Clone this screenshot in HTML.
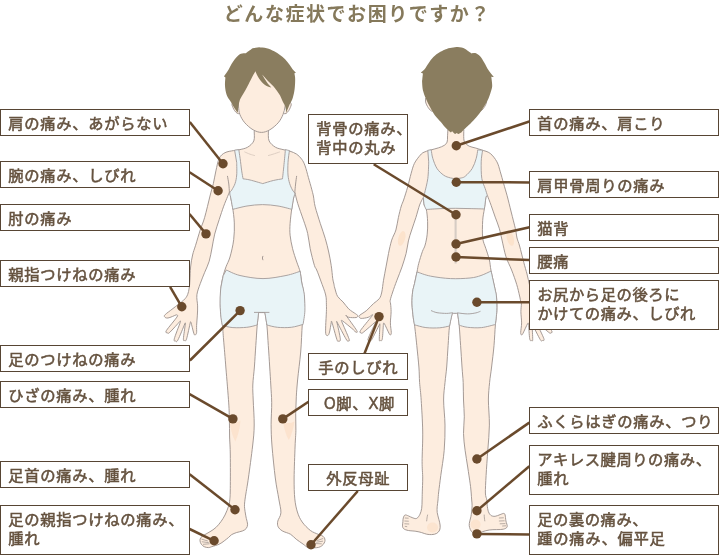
<!DOCTYPE html>
<html lang="ja">
<head>
<meta charset="utf-8">
<title>どんな症状でお困りですか？</title>
<style>
html,body{margin:0;padding:0;background:#fff;}
body{width:719px;height:555px;overflow:hidden;position:relative;font-family:"Liberation Sans","Noto Sans CJK JP",sans-serif;}
svg{position:absolute;left:0;top:0;display:block;}
svg text{font-family:"Liberation Sans","Noto Sans CJK JP",sans-serif;}
</style>
</head>
<body>
<svg width="719" height="555" viewBox="0 0 719 555">
<path d="M254.2,131.4C254.1,133.0 254.9,138.3 253.8,140.9C252.7,143.5 249.9,145.8 247.6,147.2C245.3,148.6 242.4,149.0 240.0,149.6C237.6,150.2 235.9,150.1 233.4,150.6C230.9,151.1 227.4,151.4 225.0,152.7C222.6,154.0 220.7,155.3 219.2,158.3C217.7,161.3 216.9,166.7 215.9,170.9C214.9,175.1 214.4,179.2 213.4,183.4C212.4,187.6 211.4,190.3 210.0,196.0C208.6,201.7 206.3,211.6 204.7,217.3C203.1,223.0 201.7,225.3 200.2,230.0C198.7,234.7 196.9,241.1 195.6,245.3C194.3,249.5 193.4,251.4 192.6,255.0C191.8,258.6 191.0,262.8 190.6,267.0C190.2,271.2 190.1,276.5 189.9,280.0C189.7,283.5 189.6,285.6 189.2,288.0C188.8,290.4 188.5,292.6 187.6,294.7C186.7,296.8 185.9,298.0 183.5,300.3C181.1,302.6 176.0,306.1 173.0,308.5C170.0,310.9 166.7,313.1 165.3,314.5C163.9,315.9 164.2,316.2 164.6,316.8C165.0,317.4 166.0,318.3 168.0,318.0C170.0,317.7 175.0,315.3 176.4,314.8C176.5,315.2 178.7,314.4 177.0,317.0C175.3,319.6 168.0,327.9 166.4,330.5C164.8,333.1 166.8,332.6 167.4,332.9C168.0,333.2 167.7,334.2 169.8,332.3C171.9,330.4 178.3,323.1 180.0,321.3C180.0,321.5 181.1,319.6 180.2,322.5C179.2,325.4 175.1,335.7 174.3,338.8C173.6,341.9 175.1,340.9 175.7,341.1C176.3,341.3 176.5,342.7 178.0,339.8C179.5,336.9 183.7,326.5 184.8,323.8C184.9,323.8 185.5,321.5 185.3,324.0C185.1,326.5 183.5,336.1 183.4,338.8C183.3,341.6 184.3,340.5 184.8,340.5C185.3,340.5 185.7,341.8 186.6,338.8C187.5,335.8 189.7,325.2 190.3,322.5C190.4,322.5 190.4,320.7 191.0,322.5C191.6,324.3 193.1,331.2 193.8,333.3C194.5,335.4 194.7,335.0 195.2,334.9C195.7,334.8 196.4,334.2 196.6,332.6C196.8,331.1 196.5,328.4 196.6,325.6C196.7,322.8 197.1,319.2 197.3,315.9C197.5,312.6 197.7,309.4 197.6,305.9C197.5,302.4 196.4,298.4 196.9,294.7C197.4,291.0 199.0,287.2 200.3,283.5C201.6,279.8 203.2,276.0 204.7,272.3C206.2,268.6 208.0,265.2 209.2,261.2C210.4,257.1 211.1,252.5 212.0,248.0C212.9,243.5 213.5,238.8 214.7,234.1C215.9,229.4 217.7,224.2 219.2,219.6C220.7,214.9 222.3,210.0 223.7,206.2C225.1,202.3 226.7,198.8 227.6,196.5C228.5,194.2 229.0,192.9 229.3,192.2C229.4,192.3 229.8,192.5 229.9,192.6C230.1,193.7 230.6,196.6 231.0,199.0C231.4,201.4 232.0,203.3 232.6,207.3C233.2,211.3 234.1,217.5 234.3,222.9C234.5,228.3 234.4,234.0 233.7,239.7C233.0,245.4 231.3,252.5 230.0,257.0C228.7,261.5 227.1,263.7 226.0,266.8C224.9,269.9 224.0,272.4 223.2,275.7C222.4,279.0 221.5,282.8 221.0,286.9C220.5,291.0 220.5,296.1 220.4,300.3C220.3,304.5 220.3,307.9 220.6,312.0C220.9,316.1 221.9,320.3 222.4,325.0C222.9,329.7 223.0,332.8 223.6,340.0C224.2,347.2 225.1,357.5 225.9,368.0C226.8,378.5 228.1,394.2 228.7,402.9C229.3,411.6 229.2,414.3 229.4,420.0C229.6,425.7 229.4,431.2 229.6,437.0C229.8,442.8 230.2,446.4 230.3,455.0C230.4,463.6 230.4,481.1 230.3,488.5C230.2,495.9 230.1,496.8 229.8,499.7C229.5,502.6 229.4,503.4 228.6,506.0C227.8,508.6 226.3,512.4 225.0,515.0C223.7,517.6 222.4,519.6 220.9,521.7C219.4,523.8 217.7,525.8 215.9,527.5C214.1,529.2 211.9,530.5 210.0,531.7C208.1,533.0 205.7,534.0 204.2,535.0C202.7,536.0 201.5,536.6 200.8,537.6C200.1,538.6 199.9,539.8 200.0,540.9C200.1,542.0 200.6,543.2 201.3,544.2C202.0,545.2 203.0,546.1 204.2,546.7C205.4,547.3 207.2,547.6 208.4,547.6C209.7,547.6 209.9,547.3 211.7,546.7C213.5,546.1 217.1,545.2 219.2,544.2C221.3,543.2 222.7,542.0 224.2,540.9C225.7,539.8 227.2,538.6 228.4,537.6C229.7,536.6 230.3,535.5 231.7,534.6C233.1,533.8 234.9,533.1 236.7,532.5C238.5,531.9 241.0,531.6 242.6,530.9C244.2,530.2 245.5,529.5 246.3,528.4C247.1,527.3 247.6,525.9 247.6,524.2C247.6,522.5 246.7,520.5 246.3,518.4C245.9,516.3 245.4,514.1 245.1,511.7C244.8,509.3 244.3,507.3 244.5,504.2C244.7,501.1 245.3,497.4 246.0,493.0C246.7,488.6 247.3,485.8 248.4,478.0C249.5,470.2 251.6,454.8 252.6,446.0C253.6,437.2 254.1,432.7 254.2,425.0C254.3,417.3 253.4,406.7 253.2,400.0C253.0,393.3 252.6,390.5 252.8,385.0C253.0,379.5 253.9,373.6 254.4,367.0C254.9,360.4 255.3,352.5 255.8,345.6C256.3,338.7 256.7,331.1 257.2,325.5C257.7,319.9 258.4,314.4 258.6,312.2C259.7,312.2 263.8,312.2 264.9,312.2C265.2,314.4 266.3,319.9 266.9,325.5C267.5,331.1 267.8,338.7 268.3,345.6C268.8,352.5 269.3,360.4 269.7,367.0C270.1,373.6 270.5,379.1 270.8,385.0C271.1,390.9 271.6,395.7 271.7,402.3C271.8,408.9 271.1,417.4 271.1,424.7C271.2,432.0 271.3,437.1 272.0,446.0C272.7,454.9 274.2,469.2 275.3,478.0C276.4,486.8 277.9,493.1 278.8,498.9C279.7,504.7 281.1,509.1 280.9,512.8C280.7,516.5 278.3,518.8 277.8,521.1C277.3,523.4 277.4,525.1 278.1,526.7C278.9,528.3 280.2,529.6 282.3,530.9C284.4,532.2 288.3,532.9 290.6,534.3C292.9,535.7 294.1,537.6 296.2,539.2C298.3,540.8 301.1,542.7 303.1,544.1C305.1,545.5 306.2,546.9 308.0,547.5C309.8,548.1 312.2,547.8 314.0,547.8C315.8,547.8 317.2,547.7 318.5,547.4C319.8,547.1 320.9,546.5 321.8,545.8C322.8,545.1 323.7,543.9 324.2,543.0C324.7,542.1 325.0,541.2 325.0,540.3C325.0,539.4 324.7,538.3 324.2,537.5C323.7,536.7 322.8,536.1 321.8,535.6C320.8,535.1 320.3,535.3 318.4,534.4C316.5,533.5 313.0,532.5 310.3,530.4C307.6,528.3 304.4,525.1 302.2,522.0C300.0,518.9 298.6,515.9 297.4,512.0C296.2,508.1 295.4,504.6 294.8,498.9C294.2,493.2 294.1,486.8 294.1,478.0C294.2,469.2 294.8,453.9 295.1,446.0C295.4,438.1 295.8,435.7 295.9,430.3C296.0,424.9 295.6,419.1 295.7,413.5C295.8,407.9 296.0,402.4 296.3,396.8C296.6,391.2 296.9,387.5 297.6,380.0C298.3,372.5 299.9,361.3 300.7,352.0C301.5,342.7 301.7,332.1 302.3,324.3C302.9,316.5 304.2,310.4 304.4,305.0C304.6,299.6 304.0,295.7 303.6,292.0C303.2,288.3 302.4,286.3 301.8,283.0C301.2,279.7 301.0,275.6 300.2,272.1C299.4,268.6 298.1,266.0 296.8,262.1C295.5,258.2 293.7,253.2 292.6,248.7C291.5,244.2 290.5,239.4 290.1,235.2C289.7,231.0 289.8,228.0 290.1,223.5C290.4,219.0 291.2,212.7 291.8,208.4C292.4,204.2 293.1,200.5 293.6,198.0C294.1,195.5 294.4,194.2 294.6,193.5C294.7,193.4 294.9,192.9 295.0,192.8C295.4,194.6 296.3,198.8 297.7,203.4C299.1,208.0 301.8,215.2 303.5,220.2C305.2,225.2 306.6,228.8 307.7,233.6C308.8,238.3 309.1,243.4 310.2,248.7C311.3,254.0 313.3,261.8 314.4,265.4C315.5,268.9 315.6,267.4 316.7,270.0C317.8,272.6 319.4,276.9 320.9,281.1C322.4,285.3 324.8,291.1 325.7,295.0C326.6,298.9 326.3,302.0 326.4,304.8C326.5,307.6 326.5,308.2 326.4,311.7C326.3,315.2 325.8,322.0 325.7,325.6C325.6,329.2 325.5,331.6 325.7,333.3C325.9,335.0 326.5,335.6 327.1,335.6C327.7,335.6 328.5,335.5 329.2,333.3C329.9,331.1 330.9,324.2 331.3,322.4C331.4,322.4 331.1,319.5 332.0,322.4C332.9,325.2 335.8,336.4 336.9,339.5C338.0,342.6 338.1,341.2 338.7,341.1C339.3,341.0 340.6,342.0 340.3,338.8C340.0,335.6 337.5,325.0 336.9,322.2C337.0,322.3 335.8,319.8 337.3,322.6C338.8,325.4 344.1,335.8 345.9,338.8C347.7,341.9 347.5,340.9 348.0,340.9C348.5,340.9 350.1,342.0 349.0,338.8C347.9,335.6 342.9,324.4 341.7,321.5C341.8,321.4 340.4,319.4 342.4,320.8C344.4,322.2 351.3,327.9 353.5,329.8C355.7,331.7 355.1,332.0 355.6,332.1C356.1,332.2 358.3,333.3 356.7,330.5C355.1,327.7 347.7,317.8 345.9,315.2C346.4,315.6 347.0,316.9 348.7,317.3C350.4,317.7 354.8,317.8 356.3,317.5C357.8,317.2 357.8,316.2 357.7,315.6C357.6,315.0 357.1,314.9 355.6,313.8C354.1,312.7 350.8,310.9 348.7,308.9C346.6,306.9 345.0,304.1 343.1,302.0C341.2,299.9 339.0,298.7 337.6,296.4C336.2,294.1 335.5,290.3 334.8,288.1C334.1,285.9 334.1,284.6 333.7,283.0C333.3,281.4 333.1,281.2 332.7,278.3C332.3,275.4 331.9,269.8 331.2,265.4C330.5,261.0 329.7,256.5 328.7,252.0C327.7,247.5 326.7,243.3 325.3,238.6C323.9,233.8 322.0,228.8 320.3,223.5C318.6,218.2 316.4,211.4 315.2,206.8C314.0,202.2 314.0,198.9 313.4,196.0C312.8,193.1 312.5,192.3 311.7,189.2C310.9,186.1 309.5,181.4 308.4,177.5C307.3,173.6 306.2,169.0 305.1,165.9C304.0,162.8 303.1,161.1 301.7,159.2C300.3,157.2 298.6,155.5 296.7,154.2C294.8,152.9 292.3,152.0 290.0,151.2C287.7,150.4 285.4,150.3 283.0,149.6C280.6,148.9 277.7,148.6 275.4,147.2C273.1,145.8 270.3,143.5 269.1,140.9C267.9,138.3 268.5,133.0 268.4,131.4" fill="#fdeddf" stroke="#9b908b" stroke-width="0.9" stroke-linejoin="round" stroke-linecap="round" />
<path d="M232.8,102.5C232.7,102.9 231.7,103.7 232.0,105.0C232.3,106.3 233.6,109.1 234.5,110.5C235.4,111.9 236.7,113.0 237.5,113.5C238.3,114.0 239.2,113.5 239.5,113.5" fill="#fdeddf" stroke="#9b908b" stroke-width="0.9" stroke-linejoin="round" stroke-linecap="round" />
<path d="M290.4,102.5C290.5,102.9 291.5,103.7 291.2,105.0C290.9,106.3 289.7,109.1 288.8,110.5C287.9,111.9 286.8,113.0 286.0,113.5C285.2,114.0 284.3,113.5 284.0,113.5" fill="#fdeddf" stroke="#9b908b" stroke-width="0.9" stroke-linejoin="round" stroke-linecap="round" />
<path d="M238.3,95.0C238.3,96.8 238.2,102.8 238.5,106.1C238.8,109.3 238.8,111.7 239.9,114.5C241.0,117.3 242.6,120.2 244.8,122.8C247.0,125.3 250.3,128.2 253.1,129.8C255.9,131.4 258.7,132.4 261.5,132.4C264.3,132.4 267.0,131.4 269.8,129.8C272.6,128.2 276.0,125.3 278.2,122.8C280.4,120.2 281.9,117.3 283.0,114.5C284.1,111.7 284.7,109.3 285.1,106.1C285.5,102.8 286.4,101.0 285.5,95.0C284.6,89.0 284.1,75.5 280.0,70.0C275.9,64.5 267.2,62.0 261.0,62.0C254.8,62.0 246.0,68.7 243.0,70.0Z" fill="#fdeddf" stroke="#9b908b" stroke-width="0.9" stroke-linejoin="round" stroke-linecap="round" />
<path d="M244.8,152.0C245.7,152.4 248.4,153.6 250.0,154.2C251.6,154.8 253.8,155.3 254.5,155.5" fill="none" stroke="#d6c6bb" stroke-width="0.8" stroke-linejoin="round" stroke-linecap="round" />
<path d="M268.4,155.5C269.2,155.3 271.1,154.8 273.0,154.2C274.9,153.6 278.4,152.4 279.5,152.0" fill="none" stroke="#d6c6bb" stroke-width="0.8" stroke-linejoin="round" stroke-linecap="round" />
<path d="M262.9,256.3C262.8,256.6 262.4,257.4 262.4,258.0C262.4,258.6 262.8,259.5 262.9,259.8" fill="none" stroke="#9b908b" stroke-width="0.9" stroke-linejoin="round" stroke-linecap="round" />
<path d="M201.8,539.2L207.5,540.9" fill="none" stroke="#9b908b" stroke-width="0.7" stroke-linejoin="round" stroke-linecap="round" />
<path d="M202.2,541.8L208.4,542.6" fill="none" stroke="#9b908b" stroke-width="0.7" stroke-linejoin="round" stroke-linecap="round" />
<path d="M203.4,544.3L209.2,543.8" fill="none" stroke="#9b908b" stroke-width="0.7" stroke-linejoin="round" stroke-linecap="round" />
<path d="M322.8,538.6L317.5,540.5" fill="none" stroke="#9b908b" stroke-width="0.7" stroke-linejoin="round" stroke-linecap="round" />
<path d="M322.6,541.2L316.6,542.2" fill="none" stroke="#9b908b" stroke-width="0.7" stroke-linejoin="round" stroke-linecap="round" />
<path d="M321.4,543.8L315.8,543.6" fill="none" stroke="#9b908b" stroke-width="0.7" stroke-linejoin="round" stroke-linecap="round" />
<path d="M229.6,420.5C233,422.5 237,422.5 240.4,420.5C240,428 238,436 235.3,441.5C232.5,436 230.2,428 229.6,420.5Z" fill="#fbdfc8" opacity="0.75"/>
<path d="M283.2,421.5C286.5,423.5 290.5,423.5 294.4,421.5C293.6,428 291.6,435 288.8,440C286,435 283.8,428 283.2,421.5Z" fill="#fbdfc8" opacity="0.75"/>
<path d="M234.6,150.2C235.3,150.1 238.1,149.7 238.8,149.6C239.0,151.1 239.6,154.8 240.1,158.3C240.6,161.9 241.2,167.5 241.7,170.9C242.2,174.3 242.8,177.5 243.0,178.8C244.2,179.0 246.8,179.2 250.1,180.0C253.4,180.8 260.6,183.0 262.7,183.6C264.5,183.1 270.0,181.3 273.3,180.5C276.6,179.7 281.0,179.1 282.5,178.8C282.8,176.1 283.7,167.4 284.2,162.5C284.7,157.6 285.2,151.8 285.4,149.6C286.1,149.8 288.7,150.4 289.4,150.6C289.2,152.6 288.2,158.4 288.0,162.5C287.8,166.6 287.7,171.5 288.0,175.0C288.3,178.5 288.9,180.9 289.6,183.4C290.4,185.9 291.6,188.4 292.5,190.1C293.4,191.8 294.6,192.2 294.8,193.5C295.0,194.8 294.1,195.4 293.6,198.0C293.1,200.6 292.1,207.4 291.8,209.3C289.5,208.8 282.9,206.8 278.0,206.0C273.1,205.2 267.7,204.6 262.5,204.6C257.3,204.6 251.9,205.2 247.0,206.0C242.1,206.8 235.2,208.8 232.8,209.3C232.5,207.6 231.5,201.7 231.0,199.0C230.5,196.3 229.7,194.5 229.8,193.0C229.9,191.5 230.8,191.7 231.7,190.1C232.6,188.5 234.3,185.9 235.1,183.4C235.9,180.9 236.4,178.5 236.7,175.0C237.0,171.5 236.7,164.6 236.7,162.5Z" fill="#e9f4f7" stroke="#a29a99" stroke-width="0.9" stroke-linejoin="round"/>
<path d="M227.5,176.3C227.7,177.6 228.5,181.4 228.8,184.0C229.1,186.6 229.3,190.7 229.4,192.0" fill="none" stroke="#9b908b" stroke-width="0.9" stroke-linejoin="round" stroke-linecap="round" />
<path d="M296.6,176.3C296.4,177.6 295.9,181.3 295.6,184.0C295.3,186.7 294.9,191.1 294.8,192.5" fill="none" stroke="#9b908b" stroke-width="0.9" stroke-linejoin="round" stroke-linecap="round" />
<path d="M226.3,270.0C228.6,270.9 233.9,274.1 240.0,275.5C246.1,276.9 255.3,278.6 263.0,278.6C270.7,278.6 279.8,276.7 286.0,275.5C292.2,274.3 297.8,272.0 300.2,271.3C300.5,273.2 301.2,279.9 301.8,283.0C302.4,286.1 303.1,287.7 303.5,290.0C303.9,292.3 304.3,293.5 304.5,297.0C304.7,300.5 305.1,306.3 304.9,310.9C304.7,315.5 303.4,322.1 303.1,324.4C301.1,324.9 295.6,326.8 291.3,327.3C287.0,327.8 281.5,327.7 277.4,327.3C273.3,326.9 268.6,325.4 266.9,325.0C266.6,322.9 265.2,314.7 264.9,312.6C263.8,312.6 259.7,312.6 258.6,312.6C258.4,314.7 257.4,322.9 257.2,325.0C255.5,325.4 250.9,326.9 246.8,327.3C242.8,327.7 237.0,327.9 232.9,327.6C228.8,327.3 224.2,325.9 222.4,325.5C222.2,324.2 221.4,321.4 221.0,317.8C220.6,314.2 220.2,308.5 220.1,303.9C220.0,299.3 220.1,294.7 220.6,290.0C221.1,285.3 222.8,278.1 223.2,275.7Z" fill="#e9f4f7" stroke="#a29a99" stroke-width="0.9" stroke-linejoin="round"/>
<path d="M254.4,312.4L269,312.4" fill="none" stroke="#a29a99" stroke-width="0.9" stroke-linejoin="round" stroke-linecap="round" />
<path d="M259.2,47.3C260.4,47.5 264.2,47.6 266.7,48.3C269.2,49.0 272.0,50.2 274.2,51.3C276.4,52.4 278.2,53.7 280.0,55.0C281.8,56.3 283.6,57.7 285.1,59.2C286.6,60.7 287.9,62.5 289.2,64.2C290.4,65.9 291.5,67.8 292.6,69.2C293.7,70.6 295.3,71.9 295.9,72.4C295.6,72.6 294.6,73.2 294.4,73.3C294.5,74.0 295.0,76.0 295.1,77.6C295.2,79.2 295.2,80.6 295.1,82.9C295.0,85.2 294.8,88.4 294.3,91.2C293.8,94.0 293.1,97.2 292.2,99.6C291.3,102.0 290.2,103.2 289.2,105.4C288.2,107.6 286.7,111.4 286.2,112.6C286.0,111.5 285.7,108.0 285.1,106.1C284.5,104.2 283.4,103.0 282.6,101.2C281.8,99.4 281.1,97.2 280.1,95.4C279.1,93.6 277.8,91.9 276.7,90.4C275.6,88.9 274.9,87.9 273.4,86.2C271.9,84.5 269.4,82.4 267.5,80.4C265.6,78.5 263.0,75.5 262.1,74.5C262.9,75.8 265.2,79.8 266.7,82.0C268.2,84.2 270.5,86.6 271.3,87.5C270.2,87.1 267.0,86.5 265.0,85.0C263.0,83.5 260.8,81.0 259.2,78.7C257.6,76.4 256.0,72.5 255.4,71.2C254.8,72.3 253.0,75.4 251.7,77.9C250.4,80.4 248.9,83.6 247.5,86.2C246.1,88.8 244.6,91.5 243.3,93.7C242.1,95.9 240.8,97.5 240.0,99.6C239.2,101.7 238.9,103.9 238.5,106.1C238.1,108.3 237.9,111.7 237.8,112.8C237.3,112.2 236.2,110.7 235.0,108.9C233.8,107.1 232.3,104.3 230.9,102.0C229.5,99.7 227.7,97.7 226.7,95.0C225.7,92.3 225.2,88.9 225.0,86.0C224.8,83.1 225.3,79.0 225.4,77.6C225.2,77.4 224.2,76.5 224.0,76.3C224.2,76.0 225.2,74.5 225.4,74.2C226.0,73.4 227.6,71.2 228.8,69.2C230.0,67.2 231.2,64.5 232.5,62.5C233.8,60.5 235.3,58.6 236.7,57.1C238.1,55.6 239.4,54.4 240.9,53.8C242.4,53.1 245.1,53.3 245.9,53.2C246.3,52.9 247.3,52.1 248.4,51.3C249.5,50.5 251.9,48.8 252.6,48.3Z" fill="#8a7d5f"/>
<path d="M447.9,129.9C447.8,131.1 447.6,135.0 447.5,137.0C447.4,139.0 447.7,140.6 447.1,142.0C446.6,143.4 445.7,144.4 444.2,145.4C442.7,146.4 440.7,147.1 438.3,147.9C435.9,148.7 432.4,149.5 430.0,150.2C427.6,150.9 425.6,151.4 424.0,152.2C422.4,153.0 421.9,153.2 420.3,155.1C418.7,157.0 415.9,160.3 414.4,163.4C412.9,166.5 412.2,169.6 411.1,173.5C410.0,177.4 408.9,182.5 407.7,186.9C406.4,191.3 404.7,196.8 403.6,200.0C402.5,203.2 402.2,203.1 401.3,206.0C400.4,208.9 399.3,213.5 398.4,217.5C397.5,221.5 397.0,226.2 395.9,230.0C394.8,233.8 392.9,236.2 391.7,240.1C390.5,244.0 389.4,249.0 388.5,253.5C387.6,258.0 386.8,262.4 386.0,266.9C385.2,271.4 384.2,276.1 383.5,280.3C382.8,284.5 382.5,288.9 381.8,292.0C381.1,295.1 380.7,296.8 379.3,298.7C377.9,300.6 375.8,301.5 373.7,303.4C371.6,305.3 369.1,308.3 366.8,310.3C364.5,312.3 361.1,314.1 359.8,315.2C358.5,316.3 358.9,316.3 359.1,316.8C359.3,317.3 359.7,318.3 361.2,318.4C362.7,318.5 366.3,317.9 368.2,317.3C370.1,316.7 371.6,315.1 372.3,314.7C372.2,315.0 373.6,313.9 371.6,316.5C369.6,319.1 362.2,327.8 360.5,330.5C358.8,333.2 360.7,332.5 361.2,332.8C361.7,333.1 361.0,334.1 363.3,332.3C365.6,330.5 373.1,323.9 375.1,322.2C375.1,322.4 376.4,320.5 375.2,323.2C374.0,325.9 369.1,335.6 368.2,338.5C367.2,341.4 368.9,340.3 369.5,340.5C370.1,340.7 370.1,342.2 371.8,339.5C373.5,336.8 378.2,327.0 379.5,324.5C379.6,324.6 379.9,322.5 379.9,325.0C379.9,327.5 379.2,336.9 379.3,339.5C379.4,342.1 380.2,340.6 380.7,340.5C381.2,340.4 381.9,341.5 382.3,338.8C382.8,336.1 383.2,326.6 383.4,324.2C383.5,324.1 383.4,322.0 384.3,323.5C385.2,325.0 388.0,331.4 389.0,333.3C390.0,335.2 390.0,335.0 390.4,334.9C390.8,334.8 391.3,334.6 391.3,332.6C391.3,330.6 390.4,326.4 390.4,322.9C390.4,319.4 391.1,314.8 391.1,311.7C391.1,308.6 390.8,305.9 390.6,304.0C390.5,302.1 389.9,302.4 390.2,300.4C390.5,298.4 391.6,295.4 392.7,292.0C393.8,288.6 395.3,284.5 396.9,280.3C398.4,276.1 400.5,271.4 402.0,266.9C403.5,262.4 405.0,257.8 406.1,253.5C407.2,249.2 407.5,244.8 408.4,240.9C409.3,237.0 410.4,233.9 411.7,230.0C412.9,226.1 414.6,221.7 415.9,217.5C417.2,213.3 418.5,208.2 419.6,205.0C420.8,201.8 422.3,199.4 422.8,198.3C422.9,198.2 423.3,197.6 423.4,197.5C423.5,198.8 423.7,203.1 424.2,205.0C424.7,206.9 425.7,206.4 426.3,209.2C426.9,212.0 427.5,217.5 427.6,221.7C427.8,225.9 427.6,230.3 427.2,234.2C426.8,238.1 425.9,242.2 425.1,245.1C424.3,248.0 423.5,248.4 422.4,251.5C421.3,254.6 419.6,260.1 418.7,263.5C417.8,266.9 417.7,268.5 417.0,271.9C416.3,275.3 415.2,280.3 414.5,283.7C413.8,287.1 413.0,288.6 412.6,292.0C412.2,295.4 411.9,299.6 412.0,303.9C412.1,308.2 412.9,314.3 413.3,317.8C413.7,321.3 413.9,320.2 414.5,324.8C415.1,329.4 416.1,338.6 416.8,345.6C417.5,352.6 418.4,360.9 418.9,367.0C419.4,373.1 419.2,376.9 419.6,382.5C420.0,388.1 420.7,392.2 421.2,400.3C421.7,408.4 422.5,420.8 422.7,431.0C422.9,441.2 422.1,453.8 422.1,461.6C422.1,469.4 422.7,472.9 422.7,478.0C422.7,483.1 422.4,488.2 422.3,491.9C422.2,495.6 422.2,497.3 422.1,500.0C422.0,502.7 422.1,505.9 421.7,508.3C421.3,510.7 420.8,512.5 420.0,514.2C419.2,515.9 417.9,517.8 416.7,518.4C415.5,519.0 414.3,518.3 412.9,517.9C411.5,517.5 409.7,516.4 408.4,515.9C407.1,515.4 405.9,514.7 405.0,515.0C404.1,515.3 403.7,516.8 403.3,517.9C402.9,519.0 403.0,520.4 402.9,521.7C402.8,523.0 402.4,524.7 402.5,525.9C402.6,527.1 402.8,528.0 403.8,528.8C404.8,529.6 406.4,530.1 408.4,530.5C410.4,530.9 413.7,530.9 415.9,531.3C418.1,531.6 419.9,532.1 421.7,532.6C423.5,533.1 425.0,533.9 426.7,534.2C428.4,534.5 430.0,534.7 431.7,534.6C433.4,534.5 435.4,534.2 436.7,533.4C438.0,532.6 439.1,531.4 439.7,530.0C440.3,528.6 440.2,526.8 440.1,525.0C440.0,523.2 439.3,521.3 438.8,519.2C438.3,517.1 437.5,514.6 437.2,512.5C436.9,510.4 437.1,508.8 437.2,506.7C437.3,504.6 437.8,502.5 438.0,500.0C438.2,497.5 438.2,496.0 438.7,491.9C439.2,487.8 439.9,482.3 440.8,475.4C441.7,468.5 443.5,458.7 444.2,450.3C444.9,441.9 445.1,433.5 445.0,425.1C444.9,416.7 443.6,407.1 443.6,400.0C443.6,392.9 444.5,388.0 445.0,382.5C445.5,377.0 446.2,373.1 446.7,367.0C447.2,360.9 447.6,352.4 448.1,345.6C448.6,338.8 448.8,331.8 449.5,326.4C450.2,321.0 451.8,315.2 452.3,313.0C453.2,313.0 456.7,313.0 457.6,313.0C457.9,315.1 458.7,320.1 459.2,325.5C459.7,330.9 460.1,338.7 460.6,345.6C461.1,352.5 461.6,360.9 462.0,367.0C462.4,373.1 462.9,377.0 463.2,382.5C463.4,388.0 463.3,394.3 463.5,400.0C463.7,405.7 464.3,411.2 464.3,416.8C464.3,422.4 463.4,427.9 463.5,433.5C463.6,439.1 464.4,444.7 465.1,450.3C465.8,455.9 466.9,461.4 467.7,467.0C468.5,472.6 469.6,479.5 470.2,483.8C470.8,488.1 470.9,490.3 471.2,493.0C471.4,495.7 471.5,497.9 471.7,500.0C471.9,502.1 472.1,503.8 472.1,505.8C472.1,507.8 471.8,510.2 471.6,512.0C471.4,513.8 471.3,514.8 470.9,516.7C470.5,518.6 469.5,521.6 469.3,523.4C469.1,525.2 469.2,526.1 469.6,527.5C470.0,528.9 470.6,530.6 471.7,531.7C472.8,532.8 474.2,534.3 476.0,534.3C477.8,534.3 480.3,532.4 482.5,531.7C484.7,531.0 486.8,530.4 489.2,530.0C491.6,529.6 494.3,529.7 496.7,529.6C499.1,529.5 501.6,529.7 503.4,529.2C505.1,528.7 506.8,528.1 507.2,526.7C507.6,525.3 506.2,522.9 505.9,520.9C505.5,518.9 505.5,516.2 505.1,515.0C504.8,513.8 504.6,513.5 503.8,513.4C503.0,513.3 501.6,514.1 500.1,514.6C498.7,515.1 496.6,516.2 495.1,516.3C493.6,516.4 492.0,516.2 490.9,515.4C489.8,514.6 489.0,513.4 488.4,511.7C487.8,510.0 487.4,506.9 487.1,505.0C486.9,503.1 487.2,502.0 486.9,500.0C486.6,498.0 485.5,497.1 485.4,493.0C485.3,488.9 485.7,482.5 486.1,475.4C486.5,468.3 487.2,458.7 487.8,450.3C488.4,441.9 489.3,433.5 489.4,425.1C489.5,416.7 488.4,407.1 488.4,400.0C488.4,392.9 489.1,388.0 489.6,382.5C490.1,377.0 490.9,373.1 491.6,367.0C492.3,360.9 493.4,352.6 494.0,345.6C494.6,338.6 494.9,330.6 495.4,324.8C495.9,319.0 496.6,315.5 496.8,310.9C497.0,306.3 496.8,300.4 496.5,297.0C496.2,293.6 496.2,294.6 495.3,290.3C494.4,286.0 492.1,276.1 491.1,271.0C490.1,265.9 490.2,263.3 489.3,259.5C488.4,255.7 486.9,252.0 485.8,248.4C484.7,244.8 483.2,242.7 482.7,238.0C482.2,233.3 482.4,225.3 482.7,220.4C483.0,215.5 483.8,212.7 484.4,208.7C484.9,204.7 485.7,198.5 486.0,196.5C486.2,196.3 487.2,195.7 487.4,195.5C488.0,197.1 489.8,201.7 491.1,205.3C492.4,208.9 493.8,213.2 495.2,217.1C496.6,221.0 498.3,225.0 499.4,228.8C500.5,232.6 500.9,235.3 502.0,240.0C503.1,244.7 504.4,251.8 506.0,256.8C507.6,261.8 509.8,265.4 511.6,270.0C513.4,274.6 515.4,280.1 516.7,284.4C518.0,288.7 518.9,293.1 519.6,296.0C520.3,298.9 520.5,300.7 520.8,302.0C521.1,303.3 521.4,302.4 521.4,304.0C521.4,305.6 520.9,308.6 520.9,311.7C520.9,314.8 521.6,319.4 521.6,322.9C521.6,326.4 520.7,330.6 520.7,332.6C520.7,334.6 521.2,334.8 521.6,334.9C522.0,335.0 522.0,335.2 523.0,333.3C524.0,331.4 526.8,325.0 527.7,323.5C528.6,322.0 528.5,324.1 528.6,324.2C528.8,326.6 529.2,336.1 529.7,338.8C530.2,341.5 530.8,340.4 531.3,340.5C531.8,340.6 532.6,342.1 532.7,339.5C532.8,336.9 532.1,327.5 532.1,325.0C532.1,322.5 532.4,324.6 532.5,324.5C533.8,327.0 538.5,336.8 540.2,339.5C541.9,342.2 541.9,340.7 542.5,340.5C543.1,340.3 544.8,341.4 543.8,338.5C542.8,335.6 537.9,325.9 536.8,323.2C535.6,320.5 536.9,322.4 536.9,322.2C538.9,323.9 546.4,330.5 548.7,332.3C551.0,334.1 550.3,333.1 550.8,332.8C551.3,332.5 553.2,333.2 551.5,330.5C549.8,327.8 542.4,319.1 540.4,316.5C538.4,313.9 539.8,315.0 539.7,314.7C540.4,315.1 541.9,316.7 543.8,317.3C545.6,317.9 549.3,318.5 550.8,318.4C552.3,318.3 552.7,317.3 552.9,316.8C553.1,316.3 553.5,316.3 552.2,315.2C550.9,314.1 547.5,312.3 545.2,310.3C542.9,308.3 540.4,305.3 538.3,303.4C536.2,301.5 533.9,300.6 532.7,298.7C531.5,296.8 531.6,294.4 531.0,292.0C530.4,289.6 530.0,287.0 529.3,284.0C528.6,281.0 527.9,277.6 527.0,274.0C526.1,270.4 525.0,267.2 523.8,262.5C522.6,257.8 520.7,250.1 519.6,246.0C518.5,241.9 517.7,240.9 517.0,238.0C516.3,235.1 516.4,233.1 515.4,228.8C514.4,224.5 512.6,217.6 511.2,212.0C509.8,206.4 508.3,200.1 507.0,195.3C505.7,190.6 504.7,187.4 503.6,183.5C502.5,179.6 501.4,175.4 500.3,171.8C499.2,168.2 498.6,164.9 496.9,161.8C495.2,158.7 492.7,155.4 490.2,153.4C487.7,151.4 484.3,150.9 481.8,150.0C479.3,149.1 477.2,148.5 475.1,147.9C473.0,147.3 470.9,147.0 469.2,146.2C467.5,145.4 466.0,144.2 465.1,142.9C464.2,141.7 464.0,140.8 463.8,138.7C463.6,136.5 463.8,131.4 463.8,130.0" fill="#fdeddf" stroke="#9b908b" stroke-width="0.9" stroke-linejoin="round" stroke-linecap="round" />
<path d="M425.6,98.5C425.6,99.1 425.3,100.7 425.6,102.0C425.9,103.3 426.6,105.0 427.5,106.5C428.4,108.0 430.0,110.0 431.0,110.8C432.0,111.5 433.1,111.0 433.5,111.0" fill="#fdeddf" stroke="#9b908b" stroke-width="0.9" stroke-linejoin="round" stroke-linecap="round" />
<path d="M486.6,98.5C486.6,99.1 486.9,100.7 486.6,102.0C486.3,103.3 485.6,105.0 484.7,106.5C483.8,108.0 482.2,110.0 481.2,110.8C480.2,111.5 479.1,111.0 478.7,111.0" fill="#fdeddf" stroke="#9b908b" stroke-width="0.9" stroke-linejoin="round" stroke-linecap="round" />
<path d="M405.2,518.0L408.2,518.2" fill="none" stroke="#9b908b" stroke-width="0.7" stroke-linejoin="round" stroke-linecap="round" />
<path d="M404.8,521.0L408.4,521.2" fill="none" stroke="#9b908b" stroke-width="0.7" stroke-linejoin="round" stroke-linecap="round" />
<path d="M404.8,523.8L408.8,524.0" fill="none" stroke="#9b908b" stroke-width="0.7" stroke-linejoin="round" stroke-linecap="round" />
<path d="M405.2,526.4L406.8,526.6" fill="none" stroke="#9b908b" stroke-width="0.7" stroke-linejoin="round" stroke-linecap="round" />
<path d="M499.3,518.0L503.4,517.8" fill="none" stroke="#9b908b" stroke-width="0.7" stroke-linejoin="round" stroke-linecap="round" />
<path d="M499.3,521.0L504.2,520.8" fill="none" stroke="#9b908b" stroke-width="0.7" stroke-linejoin="round" stroke-linecap="round" />
<path d="M500.1,523.8L505.0,523.6" fill="none" stroke="#9b908b" stroke-width="0.7" stroke-linejoin="round" stroke-linecap="round" />
<path d="M502.6,526.0L505.8,525.8" fill="none" stroke="#9b908b" stroke-width="0.7" stroke-linejoin="round" stroke-linecap="round" />
<path d="M427.6,515.0C427.5,515.5 427.1,517.0 427.0,518.0C426.9,519.0 426.8,520.4 426.7,520.9" fill="none" stroke="#9b908b" stroke-width="0.7" stroke-linejoin="round" stroke-linecap="round" />
<path d="M484.2,515.0C484.2,515.5 484.3,517.0 484.4,518.0C484.5,519.0 484.7,520.4 484.8,520.9" fill="none" stroke="#9b908b" stroke-width="0.7" stroke-linejoin="round" stroke-linecap="round" />
<ellipse cx="401.7" cy="238.4" rx="3.4" ry="7.5" fill="#fbdfc6" opacity="0.75" transform="rotate(15 401.7 238.4)"/>
<ellipse cx="510.3" cy="238.4" rx="3.4" ry="7.5" fill="#fbdfc6" opacity="0.75" transform="rotate(-15 510.3 238.4)"/>
<ellipse cx="432.5" cy="527.5" rx="5.5" ry="5" fill="#fbe0c8" opacity="0.7"/>
<ellipse cx="475.6" cy="524.5" rx="5" ry="5" fill="#fbe0c8" opacity="0.7"/>
<path d="M427.8,150.3C428.4,150.2 430.6,149.9 431.2,149.8C431.5,151.2 431.8,155.3 432.8,158.4C433.8,161.5 435.2,165.7 437.0,168.5C438.8,171.3 441.5,173.6 443.7,175.2C445.9,176.8 448.3,177.3 450.4,177.9C452.4,178.5 454.1,178.6 456.0,178.6C457.9,178.6 459.9,178.3 461.5,177.9C463.1,177.5 463.7,177.6 465.5,176.0C467.3,174.4 470.4,171.4 472.2,168.5C474.0,165.6 475.3,161.5 476.2,158.4C477.1,155.3 477.5,151.2 477.8,149.8C478.6,149.9 481.8,150.2 482.6,150.3C482.4,152.2 481.3,157.1 481.2,161.8C481.1,166.5 481.1,174.0 481.8,178.5C482.5,183.0 484.3,185.8 485.2,188.6C486.1,191.4 487.0,194.3 487.4,195.5C487.2,195.7 486.2,196.3 486.0,196.5C485.7,198.6 484.7,206.9 484.4,209.0C482.0,208.9 474.8,208.7 470.0,208.6C465.2,208.5 460.6,208.3 455.8,208.3C451.0,208.3 445.9,208.4 441.0,208.6C436.1,208.8 428.7,209.3 426.2,209.5C425.9,208.8 424.7,207.0 424.2,205.0C423.7,203.0 423.5,198.8 423.4,197.5C423.6,196.8 423.8,196.8 424.5,193.6C425.2,190.4 427.1,183.8 427.8,178.5C428.5,173.2 428.6,164.6 428.7,161.8Z" fill="#e9f4f7" stroke="#a29a99" stroke-width="0.9" stroke-linejoin="round"/>
<path d="M417.0,271.9C419.2,272.6 424.8,275.0 430.4,276.1C436.0,277.2 444.0,278.3 450.6,278.6C457.2,278.9 464.9,278.5 470.0,278.0C475.1,277.5 477.5,276.7 481.0,275.5C484.5,274.3 489.4,271.8 491.1,271.0C491.8,274.2 494.4,286.0 495.3,290.3C496.2,294.6 496.2,293.6 496.5,297.0C496.8,300.4 497.0,306.3 496.8,310.9C496.6,315.5 495.6,322.2 495.4,324.5C493.1,325.0 486.1,327.1 481.5,327.6C476.9,328.1 471.3,327.7 467.6,327.3C463.9,326.9 460.6,325.6 459.2,325.2C458.9,323.2 457.9,315.3 457.6,313.3C456.7,313.3 453.2,313.3 452.3,313.3C451.8,315.4 450.0,323.9 449.5,326.0C447.9,326.3 443.7,327.5 439.8,327.8C435.9,328.1 430.1,328.1 425.9,327.6C421.7,327.1 416.4,325.3 414.5,324.8C414.3,323.6 413.7,321.3 413.3,317.8C412.9,314.3 412.1,308.2 412.0,303.9C411.9,299.6 412.2,295.4 412.6,292.0C413.0,288.6 414.2,285.1 414.5,283.7Z" fill="#e9f4f7" stroke="#a29a99" stroke-width="0.9" stroke-linejoin="round"/>
<path d="M431.4,310.7C432.3,311.0 434.4,312.2 437.0,312.7C439.6,313.1 444.1,313.4 446.7,313.4C449.2,313.4 451.4,312.8 452.3,312.7" fill="none" stroke="#a29a99" stroke-width="0.9" stroke-linejoin="round" stroke-linecap="round" />
<path d="M457.6,312.9C459.3,313.1 464.6,313.9 467.6,313.9C470.7,313.9 473.8,313.3 475.9,312.9C478.0,312.5 479.4,311.6 480.1,311.4" fill="none" stroke="#a29a99" stroke-width="0.9" stroke-linejoin="round" stroke-linecap="round" />
<path d="M456.5,47.1C457.6,47.2 461.4,47.2 463.4,47.9C465.4,48.6 467.0,50.4 468.4,51.3C469.8,52.2 471.0,53.0 471.5,53.4C472.2,53.4 474.5,52.7 475.9,53.2C477.3,53.7 478.7,54.8 480.1,56.3C481.5,57.8 482.8,60.2 484.2,62.5C485.6,64.8 486.8,67.7 488.4,70.1C490.0,72.5 492.9,75.9 493.8,77.1C493.4,77.0 491.7,76.8 491.3,76.7C491.4,77.5 491.8,80.2 491.9,81.7C492.0,83.2 492.3,84.6 492.2,86.0C492.1,87.4 491.9,88.2 491.3,90.3C490.7,92.4 489.6,96.0 488.4,98.7C487.2,101.4 485.7,103.7 484.2,106.2C482.7,108.7 481.0,111.3 479.2,113.7C477.4,116.1 475.3,118.3 473.4,120.4C471.4,122.5 469.1,124.7 467.5,126.2C465.9,127.8 464.8,128.7 463.8,129.7C462.8,130.7 461.7,131.9 461.3,132.4C460.8,132.7 458.9,133.8 458.4,134.1C458.1,133.9 457.0,133.1 456.7,132.9C456.4,133.1 455.3,133.9 455.0,134.1C454.5,133.6 452.6,131.7 452.1,131.2C451.9,131.4 451.1,132.2 450.9,132.4C450.4,132.0 449.0,130.9 447.9,129.9C446.8,128.9 445.4,127.5 444.2,126.2C443.0,124.9 442.4,123.9 440.9,122.1C439.4,120.3 436.8,117.9 435.0,115.4C433.2,112.9 431.5,109.8 430.0,107.0C428.5,104.2 427.1,101.5 425.9,98.7C424.7,95.9 423.5,93.1 422.9,90.3C422.3,87.5 422.2,83.8 422.1,82.0C422.0,80.2 422.2,80.6 422.3,79.2C422.4,77.8 422.8,74.4 422.9,73.4C422.5,73.2 421.1,72.6 420.8,72.4C421.4,71.9 423.3,70.7 424.6,69.2C425.9,67.7 426.9,65.4 428.4,63.4C429.9,61.4 431.5,59.0 433.4,57.1C435.3,55.2 437.5,53.6 440.0,52.1C442.5,50.6 447.0,48.9 448.4,48.3Z" fill="#8a7d5f"/>
<line x1="455.6" y1="214" x2="455.6" y2="263.5" stroke="#d6ccc4" stroke-width="2.1"/>
<line x1="189.8" y1="122.0" x2="223.0" y2="163.7" stroke="#6a4a2c" stroke-width="2.5"/>
<circle cx="223.0" cy="163.7" r="4.7" fill="#6a4a2c"/>
<line x1="189.6" y1="172.3" x2="218.1" y2="190.8" stroke="#6a4a2c" stroke-width="2.5"/>
<circle cx="218.1" cy="190.8" r="4.7" fill="#6a4a2c"/>
<line x1="189.5" y1="214.0" x2="206.0" y2="233.9" stroke="#6a4a2c" stroke-width="2.5"/>
<circle cx="206.0" cy="233.9" r="4.7" fill="#6a4a2c"/>
<line x1="170.1" y1="286.9" x2="181.8" y2="306.8" stroke="#6a4a2c" stroke-width="2.5"/>
<circle cx="181.8" cy="306.8" r="4.7" fill="#6a4a2c"/>
<line x1="189.9" y1="360.5" x2="240.1" y2="310.6" stroke="#6a4a2c" stroke-width="2.5"/>
<circle cx="240.1" cy="310.6" r="4.7" fill="#6a4a2c"/>
<line x1="189.6" y1="394.2" x2="232.9" y2="418.9" stroke="#6a4a2c" stroke-width="2.5"/>
<circle cx="232.9" cy="418.9" r="4.7" fill="#6a4a2c"/>
<line x1="308.5" y1="401.8" x2="282.8" y2="418.9" stroke="#6a4a2c" stroke-width="2.5"/>
<circle cx="282.8" cy="418.9" r="4.7" fill="#6a4a2c"/>
<line x1="189.6" y1="474.2" x2="235.0" y2="509.7" stroke="#6a4a2c" stroke-width="2.5"/>
<circle cx="235.0" cy="509.7" r="4.7" fill="#6a4a2c"/>
<line x1="189.6" y1="529.0" x2="214.1" y2="540.8" stroke="#6a4a2c" stroke-width="2.5"/>
<circle cx="214.1" cy="540.8" r="4.7" fill="#6a4a2c"/>
<line x1="357.8" y1="491.0" x2="311.0" y2="544.8" stroke="#6a4a2c" stroke-width="2.5"/>
<circle cx="311.0" cy="544.8" r="4.7" fill="#6a4a2c"/>
<line x1="364.5" y1="353.5" x2="379.0" y2="316.6" stroke="#6a4a2c" stroke-width="2.5"/>
<circle cx="379.0" cy="316.6" r="4.7" fill="#6a4a2c"/>
<line x1="529.3" y1="121.5" x2="456.3" y2="145.8" stroke="#6a4a2c" stroke-width="2.5"/>
<circle cx="456.3" cy="145.8" r="4.7" fill="#6a4a2c"/>
<line x1="529.5" y1="182.4" x2="456.3" y2="182.2" stroke="#6a4a2c" stroke-width="2.5"/>
<circle cx="456.3" cy="182.2" r="4.7" fill="#6a4a2c"/>
<line x1="373.7" y1="164.2" x2="456.0" y2="214.8" stroke="#6a4a2c" stroke-width="2.5"/>
<circle cx="456.0" cy="214.8" r="4.7" fill="#6a4a2c"/>
<line x1="529.5" y1="227.2" x2="456.0" y2="244.0" stroke="#6a4a2c" stroke-width="2.5"/>
<circle cx="456.0" cy="244.0" r="4.7" fill="#6a4a2c"/>
<line x1="529.7" y1="260.1" x2="456.0" y2="257.0" stroke="#6a4a2c" stroke-width="2.5"/>
<circle cx="456.0" cy="257.0" r="4.7" fill="#6a4a2c"/>
<line x1="529.5" y1="302.3" x2="476.9" y2="302.2" stroke="#6a4a2c" stroke-width="2.5"/>
<circle cx="476.9" cy="302.2" r="4.7" fill="#6a4a2c"/>
<line x1="529.3" y1="422.6" x2="476.9" y2="459.0" stroke="#6a4a2c" stroke-width="2.5"/>
<circle cx="476.9" cy="459.0" r="4.7" fill="#6a4a2c"/>
<line x1="529.3" y1="466.2" x2="476.9" y2="510.7" stroke="#6a4a2c" stroke-width="2.5"/>
<circle cx="476.9" cy="510.7" r="4.7" fill="#6a4a2c"/>
<line x1="529.5" y1="534.4" x2="476.9" y2="533.9" stroke="#6a4a2c" stroke-width="2.5"/>
<circle cx="476.9" cy="533.9" r="4.7" fill="#6a4a2c"/>
<rect x="0.5" y="109.5" width="189.0" height="26.0" fill="#fff" stroke="#574534" stroke-width="1"/>
<rect x="0.5" y="161.5" width="189.0" height="26.0" fill="#fff" stroke="#574534" stroke-width="1"/>
<rect x="0.5" y="204.5" width="189.0" height="26.0" fill="#fff" stroke="#574534" stroke-width="1"/>
<rect x="0.5" y="260.5" width="189.0" height="26.0" fill="#fff" stroke="#574534" stroke-width="1"/>
<rect x="0.5" y="345.5" width="189.0" height="26.0" fill="#fff" stroke="#574534" stroke-width="1"/>
<rect x="0.5" y="381.5" width="189.0" height="26.0" fill="#fff" stroke="#574534" stroke-width="1"/>
<rect x="0.5" y="461.5" width="189.0" height="26.0" fill="#fff" stroke="#574534" stroke-width="1"/>
<rect x="0.5" y="505.5" width="189.0" height="49.0" fill="#fff" stroke="#574534" stroke-width="1"/>
<rect x="308.5" y="114.5" width="99.0" height="49.0" fill="#fff" stroke="#574534" stroke-width="1"/>
<rect x="308.5" y="353.5" width="99.0" height="26.0" fill="#fff" stroke="#574534" stroke-width="1"/>
<rect x="308.5" y="389.5" width="99.0" height="26.0" fill="#fff" stroke="#574534" stroke-width="1"/>
<rect x="308.5" y="464.5" width="99.0" height="26.0" fill="#fff" stroke="#574534" stroke-width="1"/>
<rect x="529.5" y="109.5" width="189.0" height="26.0" fill="#fff" stroke="#574534" stroke-width="1"/>
<rect x="529.5" y="171.5" width="189.0" height="26.0" fill="#fff" stroke="#574534" stroke-width="1"/>
<rect x="529.5" y="214.5" width="189.0" height="26.0" fill="#fff" stroke="#574534" stroke-width="1"/>
<rect x="529.5" y="247.5" width="189.0" height="26.0" fill="#fff" stroke="#574534" stroke-width="1"/>
<rect x="529.5" y="280.5" width="189.0" height="49.0" fill="#fff" stroke="#574534" stroke-width="1"/>
<rect x="529.5" y="407.5" width="189.0" height="26.0" fill="#fff" stroke="#574534" stroke-width="1"/>
<rect x="529.5" y="445.5" width="189.0" height="49.0" fill="#fff" stroke="#574534" stroke-width="1"/>
<rect x="529.5" y="505.5" width="189.0" height="49.0" fill="#fff" stroke="#574534" stroke-width="1"/>
<g style="filter:blur(0.25px)">
<text x="8.20" y="128.60" font-size="15.3" letter-spacing="0.7" fill="#65523f" stroke="#65523f" stroke-width="0.55">肩の痛み、あがらない</text>
<text x="8.20" y="180.60" font-size="15.3" letter-spacing="0.7" fill="#65523f" stroke="#65523f" stroke-width="0.55">腕の痛み、しびれ</text>
<text x="8.20" y="223.60" font-size="15.3" letter-spacing="0.7" fill="#65523f" stroke="#65523f" stroke-width="0.55">肘の痛み</text>
<text x="8.20" y="279.60" font-size="15.3" letter-spacing="0.7" fill="#65523f" stroke="#65523f" stroke-width="0.55">親指つけねの痛み</text>
<text x="8.20" y="364.60" font-size="15.3" letter-spacing="0.7" fill="#65523f" stroke="#65523f" stroke-width="0.55">足のつけねの痛み</text>
<text x="8.20" y="400.60" font-size="15.3" letter-spacing="0.7" fill="#65523f" stroke="#65523f" stroke-width="0.55">ひざの痛み、腫れ</text>
<text x="8.20" y="480.60" font-size="15.3" letter-spacing="0.7" fill="#65523f" stroke="#65523f" stroke-width="0.55">足首の痛み、腫れ</text>
<text x="8.20" y="525.30" font-size="15.3" letter-spacing="0.7" fill="#65523f" stroke="#65523f" stroke-width="0.55">足の親指つけねの痛み、</text>
<text x="8.20" y="544.10" font-size="15.3" letter-spacing="0.7" fill="#65523f" stroke="#65523f" stroke-width="0.55">腫れ</text>
<text x="316.20" y="134.30" font-size="15.3" letter-spacing="0.7" fill="#65523f" stroke="#65523f" stroke-width="0.55">背骨の痛み、</text>
<text x="316.20" y="153.10" font-size="15.3" letter-spacing="0.7" fill="#65523f" stroke="#65523f" stroke-width="0.55">背中の丸み</text>
<text x="318.30" y="372.60" font-size="15.3" letter-spacing="0.7" fill="#65523f" stroke="#65523f" stroke-width="0.55">手のしびれ</text>
<text y="408.60" font-size="15.3" letter-spacing="0.7" fill="#65523f" stroke="#65523f" stroke-width="0.55"><tspan x="324.0" font-size="17" textLength="12.2" lengthAdjust="spacingAndGlyphs">O</tspan><tspan x="336.2">脚、</tspan><tspan x="368.6" font-size="17" textLength="10.6" lengthAdjust="spacingAndGlyphs">X</tspan><tspan x="378.9">脚</tspan></text>
<text x="326.30" y="483.60" font-size="15.3" letter-spacing="0.7" fill="#65523f" stroke="#65523f" stroke-width="0.55">外反母趾</text>
<text x="537.20" y="128.60" font-size="15.3" letter-spacing="0.7" fill="#65523f" stroke="#65523f" stroke-width="0.55">首の痛み、肩こり</text>
<text x="537.20" y="190.60" font-size="15.3" letter-spacing="0.7" fill="#65523f" stroke="#65523f" stroke-width="0.55">肩甲骨周りの痛み</text>
<text x="537.20" y="233.60" font-size="15.3" letter-spacing="0.7" fill="#65523f" stroke="#65523f" stroke-width="0.55">猫背</text>
<text x="537.20" y="266.60" font-size="15.3" letter-spacing="0.7" fill="#65523f" stroke="#65523f" stroke-width="0.55">腰痛</text>
<text x="537.20" y="300.30" font-size="15.3" letter-spacing="0.58" fill="#65523f" stroke="#65523f" stroke-width="0.55">お尻から足の後ろに</text>
<text x="537.20" y="319.10" font-size="15.3" letter-spacing="0.58" fill="#65523f" stroke="#65523f" stroke-width="0.55">かけての痛み、しびれ</text>
<text x="537.20" y="426.60" font-size="15.3" letter-spacing="0.7" fill="#65523f" stroke="#65523f" stroke-width="0.55">ふくらはぎの痛み、つり</text>
<text x="537.20" y="465.30" font-size="15.3" letter-spacing="0.55" fill="#65523f" stroke="#65523f" stroke-width="0.55">アキレス腱周りの痛み、</text>
<text x="537.20" y="484.10" font-size="15.3" letter-spacing="0.7" fill="#65523f" stroke="#65523f" stroke-width="0.55">腫れ</text>
<text x="537.20" y="525.30" font-size="15.3" letter-spacing="0.55" fill="#65523f" stroke="#65523f" stroke-width="0.55">足の裏の痛み、</text>
<text x="537.20" y="544.10" font-size="15.3" letter-spacing="0.75" fill="#65523f" stroke="#65523f" stroke-width="0.55">踵の痛み、偏平足</text>
<text x="223.8" y="20.5" font-size="19" font-weight="bold" letter-spacing="1.55" fill="#85795b">どんな症状でお困りですか？</text>
</g>
</svg>
</body>
</html>
